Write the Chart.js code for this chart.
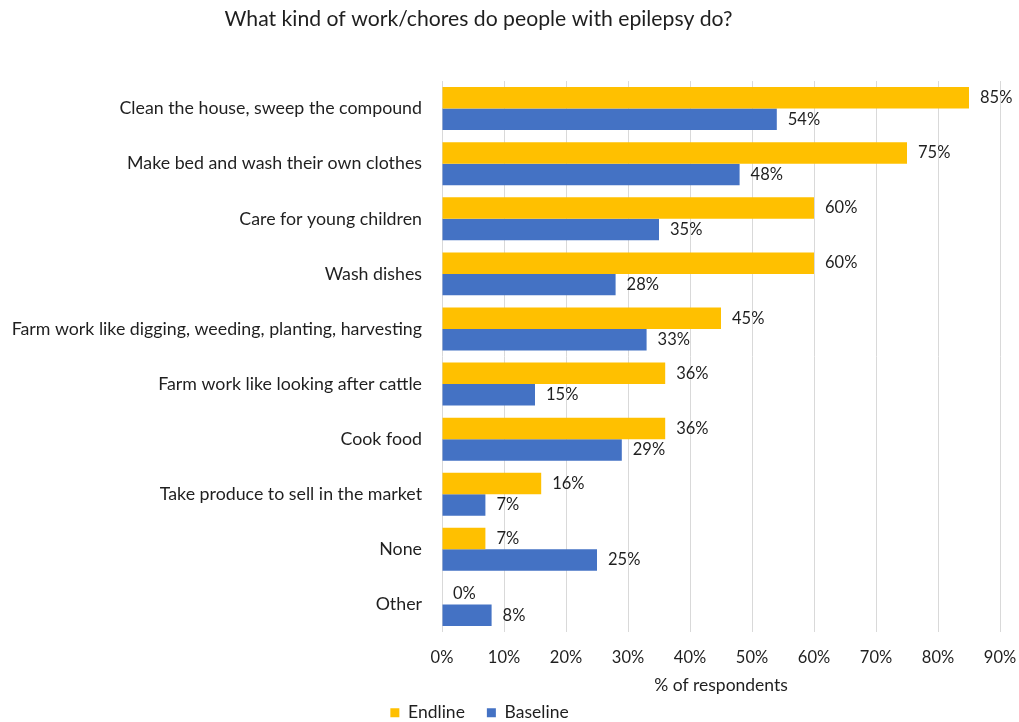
<!DOCTYPE html>
<html>
<head>
<meta charset="utf-8">
<script src="https://cdn.jsdelivr.net/npm/chart.js@4"></script>
<style>
  body { margin: 0; background: #fff; }
  canvas { display: block; }
</style>
</head>
<body>
<canvas id="choresChart" width="1019" height="722"></canvas>
<script>
// categories, top to bottom
const categories = [
  'Clean the house, sweep the compound',
  'Make bed and wash their own clothes',
  'Care for young children',
  'Wash dishes',
  'Farm work like digging, weeding, planting, harvesting',
  'Farm work like looking after cattle',
  'Cook food',
  'Take produce to sell in the market',
  'None',
  'Other'
];

// % of respondents
const endline = [85, 75, 60, 60, 45, 36, 36, 16, 7, 0];
const baseline = [54, 48, 35, 28, 33, 15, 29, 7, 25, 8];

const xMin = 0;
const xMax = 90;
const xStep = 10;

const FONT = 'Lato';
const TEXT = '#1f1f1f';

// writes the value next to the end of each bar
const barValues = {
  id: 'barValues',
  afterDatasetsDraw(chart) {
    const c = chart.ctx;
    c.save();
    c.font = '16.5px ' + FONT;
    c.fillStyle = TEXT;
    c.textAlign = 'left';
    c.textBaseline = 'middle';
    chart.data.datasets.forEach((ds, i) => {
      chart.getDatasetMeta(i).data.forEach((bar, j) => {
        c.fillText(ds.data[j] + '%', bar.x + 11, bar.y);
      });
    });
    c.restore();
  }
};

// title and legend sit a bit left of the canvas centre
const nudgeBlocks = {
  id: 'nudgeBlocks',
  afterLayout(chart) {
    const t = chart.titleBlock;
    t.left -= 31;
    t.right -= 31;
    const lg = chart.legend;
    lg.left -= 30;
    lg.right -= 30;
    lg.top = 682;
    lg.bottom = chart.height;
  }
};

new Chart(document.getElementById('choresChart'), {
  type: 'bar',
  data: {
    labels: categories,
    datasets: [{
      label: 'Endline',
      data: endline,
      backgroundColor: '#FFC000',
      categoryPercentage: 0.78,
      barPercentage: 1.0
    }, {
      label: 'Baseline',
      data: baseline,
      backgroundColor: '#4472C4',
      categoryPercentage: 0.78,
      barPercentage: 1.0
    }]
  },
  options: {
    indexAxis: 'y',
    responsive: false,
    animation: false,
    layout: { padding: 0 },
    scales: {
      x: {
        min: xMin,
        max: xMax,
        grid: { color: '#d9d9d9', drawTicks: false },
        border: { display: false },
        ticks: {
          stepSize: xStep,
          padding: 16,
          color: TEXT,
          font: { family: FONT, size: 16.5 },
          callback: v => v + '%'
        },
        title: {
          display: true,
          text: '% of respondents',
          color: TEXT,
          font: { family: FONT, size: 17.5 },
          padding: { top: 6, bottom: 4 }
        },
        afterFit(scale) {
          scale.height = 68;
          scale.paddingRight = 19;
        }
      },
      y: {
        grid: { display: false, drawTicks: false },
        border: { display: false },
        ticks: {
          padding: 20,
          color: TEXT,
          font: { family: FONT, size: 17.8 }
        },
        afterFit(scale) {
          scale.width = 442;
        }
      }
    },
    plugins: {
      title: {
        display: true,
        text: 'What kind of work/chores do people with epilepsy do?',
        color: TEXT,
        font: { family: FONT, size: 21.2, weight: 'normal' },
        padding: { top: 6.3, bottom: 49.3 }
      },
      legend: {
        position: 'bottom',
        maxHeight: 22,
        labels: {
          boxWidth: 9,
          boxHeight: 9,
          padding: 22,
          color: TEXT,
          font: { family: FONT, size: 17.5 }
        }
      },
      tooltip: { enabled: false }
    }
  },
  plugins: [barValues, nudgeBlocks]
});
</script>
</body>
</html>
